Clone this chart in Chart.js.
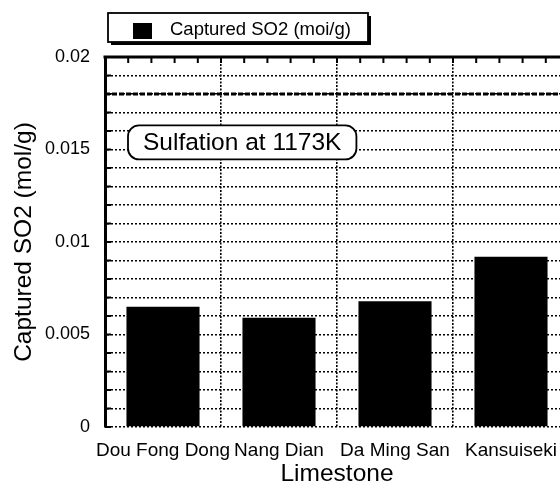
<!DOCTYPE html>
<html>
<head>
<meta charset="utf-8">
<script src="https://cdn.jsdelivr.net/npm/chart.js@4/dist/chart.umd.min.js"></script>
<style>
  html, body { margin: 0; padding: 0; background: #fff; overflow: hidden; width: 560px; height: 489px; }
  #wrap { position: absolute; left: 0; top: 0; width: 580px; height: 489px; }
</style>
</head>
<body>
<div id="wrap"><canvas id="c" width="580" height="489"></canvas></div>
<script>
// ---- data ----
const categories = ["Dou Fong Dong", "Nang Dian", "Da Ming San", "Kansuiseki"];
const capturedSO2 = [0.0065, 0.0059, 0.0068, 0.0092];
const seriesLabel = "Captured SO2 (moi/g)";
const yTitle = "Captured SO2 (mol/g)";
const xTitle = "Limestone";
const yMin = 0, yMax = 0.02, yStep = 0.001, yLabelEvery = 0.005;
const referenceLevel = 0.018;
const noteText = "Sulfation at 1173K";
const noteLevel = 0.01538;

const FONT = "'Liberation Sans', Arial, Helvetica, sans-serif";

function roundRect(ctx, x, y, w, h, r) {
  ctx.beginPath();
  ctx.moveTo(x + r, y);
  ctx.lineTo(x + w - r, y);
  ctx.arcTo(x + w, y, x + w, y + r, r);
  ctx.lineTo(x + w, y + h - r);
  ctx.arcTo(x + w, y + h, x + w - r, y + h, r);
  ctx.lineTo(x + r, y + h);
  ctx.arcTo(x, y + h, x, y + h - r, r);
  ctx.lineTo(x, y + r);
  ctx.arcTo(x, y, x + r, y, r);
  ctx.closePath();
}

const decorPlugin = {
  id: 'decor',
  afterDatasetsDraw(chart) {
    const ctx = chart.ctx;
    const area = chart.chartArea;
    const ys = chart.scales.y, xs = chart.scales.x;
    ctx.save();
    // reference dashed line
    const ry = ys.getPixelForValue(referenceLevel);
    ctx.strokeStyle = '#000';
    ctx.lineWidth = 3;
    ctx.setLineDash([5, 2]);
    ctx.beginPath();
    ctx.moveTo(area.left, ry);
    ctx.lineTo(area.right, ry);
    ctx.stroke();
    ctx.setLineDash([]);

    // top frame line
    ctx.lineWidth = 3;
    ctx.beginPath();
    ctx.moveTo(area.left - 1.5, area.top);
    ctx.lineTo(area.right, area.top);
    ctx.stroke();

    // top minor ticks (5 per category)
    const catW = (xs.getPixelForValue(1) - xs.getPixelForValue(0));
    ctx.lineWidth = 2;
    for (let i = 0; i < categories.length; i++) {
      const start = xs.getPixelForValue(i) - catW / 2;
      for (let k = 0; k < 5; k++) {
        const px = start + k * catW / 5;
        if (k === 0 && i === 0) continue;
        ctx.beginPath();
        ctx.moveTo(px, area.top);
        ctx.lineTo(px, area.top + 6);
        ctx.stroke();
      }
    }
    // left ticks at each grid step
    for (let v = yMin; v <= yMax + 1e-9; v += yStep) {
      const py = ys.getPixelForValue(v);
      ctx.beginPath();
      ctx.moveTo(area.left, py);
      ctx.lineTo(area.left + 6, py);
      ctx.stroke();
    }

    // annotation box
    const ny = ys.getPixelForValue(noteLevel);
    ctx.font = '24.5px ' + FONT;
    const tw = ctx.measureText(noteText).width;
    const bx = area.left + 23, bw = tw + 30, bh = 34, by = ny - bh / 2;
    roundRect(ctx, bx, by, bw, bh, 11);
    ctx.fillStyle = '#fff';
    ctx.fill();
    ctx.lineWidth = 1.8;
    ctx.strokeStyle = '#000';
    ctx.stroke();
    ctx.fillStyle = '#000';
    ctx.textAlign = 'left';
    ctx.textBaseline = 'middle';
    ctx.fillText(noteText, bx + 15, ny + 1);

    // legend box
    ctx.font = '18.5px ' + FONT;
    const lx = 108, ly = 13, lw = 260, lh = 29;
    ctx.fillStyle = '#000';
    ctx.fillRect(lx + 3, ly + 3, lw, lh);
    ctx.fillStyle = '#fff';
    ctx.fillRect(lx, ly, lw, lh);
    ctx.lineWidth = 1.8;
    ctx.strokeStyle = '#000';
    ctx.strokeRect(lx, ly, lw, lh);
    ctx.fillStyle = '#000';
    ctx.fillRect(lx + 25, ly + 10, 19, 16);
    ctx.textBaseline = 'middle';
    ctx.fillText(chart.data.datasets[0].label, lx + 62, ly + lh / 2 + 2);
    ctx.restore();
  }
};

new Chart(document.getElementById('c'), {
  type: 'bar',
  data: {
    labels: categories,
    datasets: [{
      label: seriesLabel,
      data: capturedSO2,
      backgroundColor: '#000',
      borderWidth: 0,
      barPercentage: 0.63,
      categoryPercentage: 1.0
    }]
  },
  options: {
    responsive: false,
    animation: false,
    devicePixelRatio: 1,
    layout: { padding: { top: 57, right: 11, left: 0, bottom: 0 } },
    plugins: { legend: { display: false }, tooltip: { enabled: false } },
    scales: {
      x: {
        offset: true,
        grid: { display: true, offset: true, color: '#000', lineWidth: 1.6, drawTicks: false },
        border: { display: false, dash: [2, 1.5] },
        ticks: { color: '#000', font: { family: FONT, size: 19 }, padding: 12, maxRotation: 0, autoSkip: false },
        title: { display: true, text: xTitle, color: '#000', font: { family: FONT, size: 24.5 }, padding: { top: 0, bottom: 0 } },
        afterFit(s) { s.height = 62; }
      },
      y: {
        min: yMin, max: yMax,
        grid: { color: '#000', lineWidth: 1.5, drawTicks: false },
        border: { display: true, color: '#000', width: 3, dash: [2, 2] },
        ticks: {
          stepSize: yStep, maxTicksLimit: 40, autoSkip: false,
          color: '#000', font: { family: FONT, size: 18 }, padding: 15,
          callback(v) {
            const n = Math.round(v / yStep);
            const every = Math.round(yLabelEvery / yStep);
            return n % every === 0 ? String(+(n * yStep).toFixed(4)) : '';
          }
        },
        title: { display: true, text: yTitle, color: '#000', font: { family: FONT, size: 24.5 }, padding: { top: 10, bottom: 0 } },
        afterFit(s) { s.width = 105; }
      }
    }
  },
  plugins: [decorPlugin]
});
</script>
</body>
</html>
